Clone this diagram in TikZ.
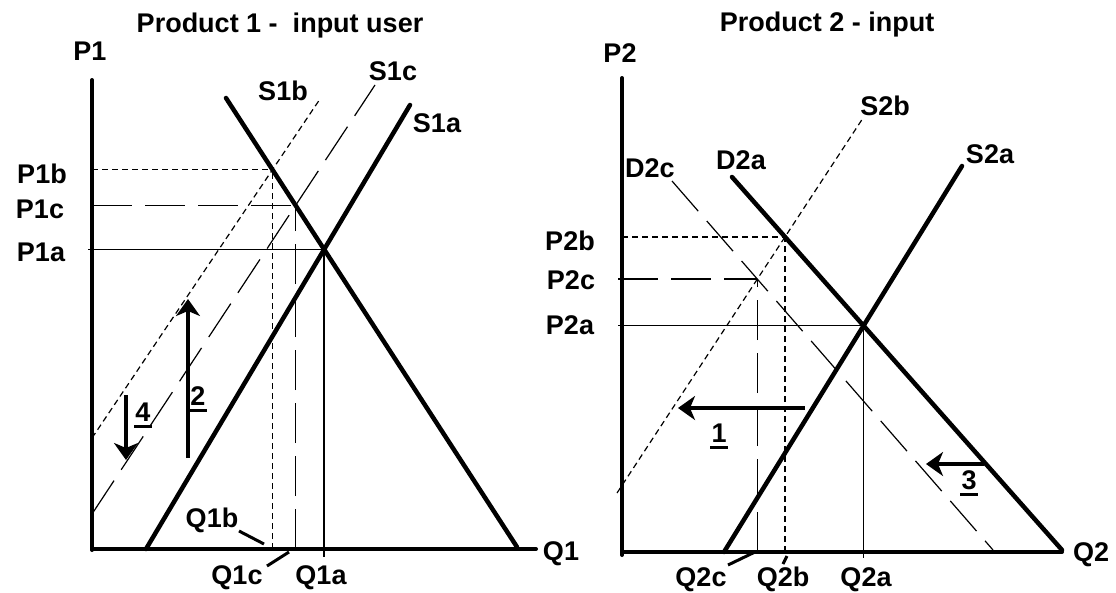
\documentclass[tikz,border=0pt]{standalone}
\usepackage{fontspec}
\setmainfont{Liberation Sans}
\usetikzlibrary{arrows.meta}
\begin{document}
\begin{tikzpicture}[x=1pt,y=-1pt,
  axisline/.style={line width=4pt,line cap=round},
  curve/.style={line width=4.5pt,line cap=round},
  thinline/.style={line width=1.4pt},
  sdash/.style={line width=1.2pt,dash pattern=on 6pt off 4pt},
  ldash/.style={line width=1.2pt,dash pattern=on 40pt off 13pt},
  leader/.style={line width=3pt},
  bigarrow/.style={line width=4.5pt,-{Stealth[length=17pt,width=24pt,inset=5pt]}},
  lbl/.style={font=\fontsize{27}{31}\selectfont\bfseries,inner sep=0pt,anchor=base},
  num/.style={font=\fontsize{27}{31}\selectfont\bfseries,inner sep=0pt,anchor=base},
  ulline/.style={line width=3pt}]
\useasboundingbox (0,0) rectangle (1116,592);

% ---------------- Left panel ----------------
\coordinate (Y1t) at (92,80);
\coordinate (Y1b) at (92,550);
\coordinate (X1l) at (92,549);
\coordinate (X1r) at (536,549);
\coordinate (D1t) at (226,98);
\coordinate (D1b) at (517,547);
\coordinate (S1at) at (410,105);
\coordinate (S1ab) at (146,549);
\coordinate (S1bt) at (320,99);
\coordinate (S1bb) at (92,438);
\coordinate (S1ct) at (375,85);
\coordinate (S1cb) at (92,514);
\coordinate (L1) at (88,0);
\coordinate (B1) at (0,557);

\coordinate (E1a) at (intersection of D1t--D1b and S1at--S1ab);
\coordinate (E1b) at (intersection of D1t--D1b and S1bt--S1bb);
\coordinate (E1c) at (intersection of D1t--D1b and S1ct--S1cb);

% guide lines
\draw[thinline] (E1a -| L1) -- (E1a);
\draw[thinline] (E1a) -- (E1a |- B1);
\draw[sdash] (E1b -| Y1t) -- (E1b);
\draw[sdash] (E1b |- X1l) -- (E1b);
\draw[ldash] (E1c -| Y1t) -- (E1c);
\draw[ldash] (E1c |- X1l) -- (E1c);

% shifted supplies
\draw[sdash] (S1bb) -- (S1bt);
\draw[ldash] (S1cb) -- (S1ct);

% axes and main curves
\draw[axisline] (Y1t) -- (Y1b);
\draw[axisline] (X1l) -- (X1r);
\draw[curve] (D1t) -- (D1b);
\draw[curve] (S1ab) -- (S1at);

% arrows
\coordinate (A2s) at (188,458);
\coordinate (A2e) at (188,299);
\coordinate (A4s) at (126,395);
\coordinate (A4e) at (126,460);
\draw[bigarrow] (A2s) -- (A2e);
\draw[bigarrow] (A4s) -- (A4e);

% labels
\node[lbl] (T1) at (280,32) {Product 1 -\ \ input user};
\node[lbl] (P1) at (90,60) {P1};
\node[lbl] (S1b) at (283,100) {S1b};
\node[lbl] (S1c) at (393,80) {S1c};
\node[lbl] (S1a) at (437,132) {S1a};
\node[lbl] (P1b) at (42,183) {P1b};
\node[lbl] (P1c) at (40,218) {P1c};
\node[lbl] (P1a) at (41,261) {P1a};
\node[lbl] (Q1b) at (212,527) {Q1b};
\node[lbl] (Q1c) at (237,584) {Q1c};
\node[lbl] (Q1a) at (321,584) {Q1a};
\node[lbl] (Q1) at (561,560) {Q1};

\coordinate (Lb1) at (239,531);
\coordinate (Lb2) at (264,544);
\coordinate (Lc1) at (267,566);
\coordinate (Lc2) at (289,552);
\draw[leader] (Lb1) -- (Lb2);
\draw[leader] (Lc1) -- (Lc2);

\node[num] (n4) at (143,421) {4};
\draw[ulline] ([xshift=-1pt,yshift=-5pt]n4.base west) -- ([xshift=1pt,yshift=-5pt]n4.base east);
\node[num] (n2) at (198,405) {2};
\draw[ulline] ([xshift=-1pt,yshift=-5pt]n2.base west) -- ([xshift=1pt,yshift=-5pt]n2.base east);

% ---------------- Right panel ----------------
\coordinate (Y2t) at (622,78);
\coordinate (Y2b) at (622,555);
\coordinate (X2l) at (622,552);
\coordinate (X2r) at (1062,552);
\coordinate (D2at) at (732,177);
\coordinate (D2ab) at (1062,550);
\coordinate (S2at) at (962,166);
\coordinate (S2ab) at (724,552);
\coordinate (S2bt) at (863,118);
\coordinate (S2bb) at (617,493);
\coordinate (D2ct) at (672,181);
\coordinate (D2cb) at (993,550);
\coordinate (L2) at (618,0);
\coordinate (B2) at (0,558);

\coordinate (E2a) at (intersection of D2at--D2ab and S2at--S2ab);
\coordinate (E2b) at (intersection of D2at--D2ab and S2bt--S2bb);
\coordinate (E2c) at (intersection of D2ct--D2cb and S2bt--S2bb);

\draw[thinline] (E2a -| L2) -- (E2a);
\draw[thinline] (E2a) -- (E2a |- B2);
\draw[sdash] (E2b -| Y2t) -- (E2b);
\draw[sdash] (E2b |- X2l) -- (E2b);
\draw[ldash] (E2c -| L2) -- (E2c);
\draw[ldash] (E2c |- X2l) -- (E2c);

\draw[sdash] (S2bb) -- (S2bt);
\draw[ldash] (D2ct) -- (D2cb);

\draw[axisline] (Y2t) -- (Y2b);
\draw[axisline] (X2l) -- (X2r);
\draw[curve] (D2at) -- (D2ab);
\draw[curve] (S2ab) -- (S2at);

\coordinate (A1s) at (805,408);
\coordinate (A1e) at (678,408);
\coordinate (A3s) at (984,464);
\coordinate (A3e) at (926,464);
\draw[bigarrow] (A1s) -- (A1e);
\draw[bigarrow] (A3s) -- (A3e);

\node[lbl] (T2) at (827,31) {Product 2 - input};
\node[lbl] (P2) at (620,62) {P2};
\node[lbl] (S2b) at (885,115) {S2b};
\node[lbl] (S2a) at (990,163) {S2a};
\node[lbl] (D2a) at (741,169) {D2a};
\node[lbl] (D2c) at (650,177) {D2c};
\node[lbl] (P2b) at (570,250) {P2b};
\node[lbl] (P2c) at (571,289) {P2c};
\node[lbl] (P2a) at (570,334) {P2a};
\node[lbl] (Q2) at (1091,561) {Q2};
\node[lbl] (Q2c) at (701,586) {Q2c};
\node[lbl] (Q2b) at (783,586) {Q2b};
\node[lbl] (Q2a) at (866,586) {Q2a};

\coordinate (Lq1) at (728,565);
\coordinate (Lq2) at (755,552);
\coordinate (Lr1) at (783,564);
\coordinate (Lr2) at (787,556);
\draw[leader] (Lq1) -- (Lq2);
\draw[leader] (Lr1) -- (Lr2);

\node[num] (n1) at (719,442) {1};
\draw[ulline] ([xshift=-1pt,yshift=-5pt]n1.base west) -- ([xshift=1pt,yshift=-5pt]n1.base east);
\node[num] (n3) at (969,489) {3};
\draw[ulline] ([xshift=-1pt,yshift=-5pt]n3.base west) -- ([xshift=1pt,yshift=-5pt]n3.base east);
\end{tikzpicture}
\end{document}
